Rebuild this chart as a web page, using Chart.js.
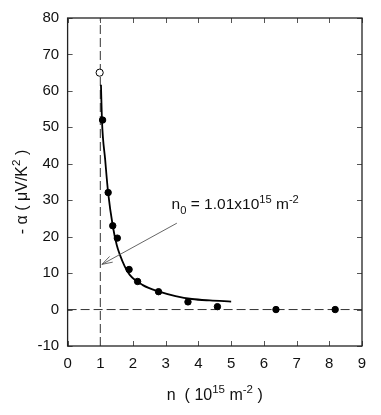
<!DOCTYPE html>
<html>
<head>
<meta charset="utf-8">
<script src="https://cdn.jsdelivr.net/npm/chart.js@4.4.1/dist/chart.umd.min.js"></script>
<style>
  html, body { margin: 0; padding: 0; background: #fff; }
  #wrap { width: 381px; height: 415px; position: relative; }
</style>
</head>
<body>
<div id="wrap"><canvas id="alphaChart"></canvas></div>
<script>
// measured points (filled)
const nMeasured = [1.07, 1.24, 1.38, 1.52, 1.88, 2.14, 2.78, 3.68, 4.58, 6.37, 8.18];
const alphaMeasured = [52, 32.1, 23, 19.6, 11, 7.7, 4.9, 2.1, 0.8, 0, 0];
// open point
const nOpen = [0.98];
const alphaOpen = [65];
// fitted curve
const nFit = [1.02, 1.05, 1.15, 1.24, 1.38, 1.5, 1.6, 1.75, 1.9, 2.3, 2.8, 3.3, 3.8, 4.35, 5.0];
const alphaFit = [61.7, 52, 41, 32, 23, 17.8, 15, 11.8, 9.5, 6.7, 4.9, 3.7, 2.9, 2.5, 2.2];
// n0 marker and zero line
const n0 = 1;
const xTicks = [0, 1, 2, 3, 4, 5, 6, 7, 8, 9];
const yTicks = [-10, 0, 10, 20, 30, 40, 50, 60, 70, 80];

const FONT = '"Liberation Sans", Arial, Helvetica, sans-serif';
const FS = 15;      // tick labels
const TFS = 16;     // axis titles
const NFS = 15.5;   // note

const toXY = (xs, ys) => xs.map((x, i) => ({ x: x, y: ys[i] }));

// draw text with sub/superscripts: parts = [[text, shift]] shift 1 = sup, -1 = sub
function drawRich(ctx, parts, x, y, align, size) {
    const widths = parts.map(([t, s]) => {
        ctx.font = (s ? size * 0.72 : size) + 'px ' + FONT;
        return ctx.measureText(t).width;
    });
    const total = widths.reduce((a, b) => a + b, 0);
    let cx = align === 'center' ? x - total / 2 : x;
    parts.forEach(([t, s], i) => {
        ctx.font = (s ? size * 0.72 : size) + 'px ' + FONT;
        const dy = s === 1 ? -size * 0.42 : (s === -1 ? size * 0.28 : 0);
        ctx.fillText(t, cx, y + dy);
        cx += widths[i];
    });
}

const framePlugin = {
    id: 'frame',
    afterDatasetsDraw(chart) {
        const { ctx, chartArea: a, scales } = chart;
        ctx.save();
        // inward ticks on all four sides
        ctx.strokeStyle = '#555';
        ctx.lineWidth = 1;
        ctx.beginPath();
        xTicks.forEach(v => {
            const px = Math.round(scales.x.getPixelForValue(v)) + 0.5;
            ctx.moveTo(px, a.bottom); ctx.lineTo(px, a.bottom - 5);
            ctx.moveTo(px, a.top); ctx.lineTo(px, a.top + 5);
        });
        yTicks.forEach(v => {
            const py = Math.round(scales.y.getPixelForValue(v)) + 0.5;
            ctx.moveTo(a.left, py); ctx.lineTo(a.left + 5, py);
            ctx.moveTo(a.right, py); ctx.lineTo(a.right - 5, py);
        });
        ctx.stroke();
        ctx.strokeStyle = '#222';
        ctx.lineWidth = 1.3;
        ctx.strokeRect(a.left, a.top, a.right - a.left, a.bottom - a.top);
        ctx.restore();
    },
    afterDraw(chart) {
        const { ctx, scales } = chart;
        const sx = scales.x, sy = scales.y;
        ctx.save();
        ctx.fillStyle = '#111';
        ctx.textBaseline = 'alphabetic';
        ctx.textAlign = 'left';

        // x title
        drawRich(ctx, [['n  ( 10', 0], ['15', 1], [' m', 0], ['-2', 1], [' )', 0]],
            (chart.chartArea.left + chart.chartArea.right) / 2, 400, 'center', TFS);

        // y title
        ctx.save();
        ctx.translate(27, 192);
        ctx.rotate(-Math.PI / 2);
        drawRich(ctx, [['- \u03b1 ( \u03bcV/K', 0], ['2', 1], [' )', 0]], 0, 0, 'center', TFS);
        ctx.restore();

        // annotation text
        drawRich(ctx, [['n', 0], ['0', -1], [' = 1.01x10', 0], ['15', 1], [' m', 0], ['-2', 1]],
            sx.getPixelForValue(3.18), sy.getPixelForValue(27.5), 'left', NFS);

        // arrow
        const x1 = sx.getPixelForValue(3.34), y1 = sy.getPixelForValue(23.7);
        const x2 = sx.getPixelForValue(1.05), y2 = sy.getPixelForValue(12.4);
        const ang = Math.atan2(y2 - y1, x2 - x1);
        ctx.strokeStyle = '#555';
        ctx.lineWidth = 0.9;
        ctx.beginPath();
        ctx.moveTo(x1, y1); ctx.lineTo(x2, y2);
        [0.3, -0.3].forEach(d => {
            ctx.moveTo(x2, y2);
            ctx.lineTo(x2 - 11 * Math.cos(ang + d), y2 - 11 * Math.sin(ang + d));
        });
        ctx.stroke();
        ctx.restore();
    }
};

function createAlphaChart() {
    const ctx = document.getElementById('alphaChart').getContext('2d');
    new Chart(ctx, {
        type: 'scatter',
        data: {
            datasets: [
                {
                    label: 'n0',
                    data: [{ x: n0, y: -10 }, { x: n0, y: 80 }],
                    showLine: true,
                    borderColor: '#333',
                    borderWidth: 1,
                    borderDash: [9, 4],
                    pointRadius: 0,
                    order: 5
                },
                {
                    label: 'zero',
                    data: [{ x: 0, y: 0 }, { x: 9, y: 0 }],
                    showLine: true,
                    borderColor: '#333',
                    borderWidth: 1,
                    borderDash: [9, 4],
                    pointRadius: 0,
                    order: 4
                },
                {
                    label: 'fit',
                    data: toXY(nFit, alphaFit),
                    showLine: true,
                    borderColor: '#000',
                    borderWidth: 1.8,
                    cubicInterpolationMode: 'monotone',
                    pointRadius: 0,
                    order: 3
                },
                {
                    label: 'measured',
                    data: toXY(nMeasured, alphaMeasured),
                    backgroundColor: '#000',
                    borderColor: '#000',
                    pointRadius: 3.2,
                    order: 1
                },
                {
                    label: 'open',
                    data: toXY(nOpen, alphaOpen),
                    backgroundColor: '#fff',
                    borderColor: '#000',
                    borderWidth: 1,
                    pointRadius: 3.6,
                    order: 2
                }
            ]
        },
        options: {
            responsive: true,
            maintainAspectRatio: false,
            animation: false,
            events: [],
            layout: { padding: { top: 18, right: 19, left: 0, bottom: 0 } },
            plugins: { legend: { display: false }, tooltip: { enabled: false } },
            scales: {
                x: {
                    type: 'linear',
                    min: 0, max: 9,
                    afterBuildTicks: s => { s.ticks = xTicks.map(v => ({ value: v })); },
                    afterFit: s => { s.height = 69; },
                    grid: { display: false, drawTicks: false },
                    border: { display: false },
                    ticks: { color: '#111', padding: 9, font: { family: FONT, size: FS } }
                },
                y: {
                    type: 'linear',
                    min: -10, max: 80,
                    afterBuildTicks: s => { s.ticks = yTicks.map(v => ({ value: v })); },
                    afterFit: s => { s.width = 67.6; },
                    grid: { display: false, drawTicks: false },
                    border: { display: false },
                    ticks: { color: '#111', padding: 8.5, font: { family: FONT, size: FS } }
                }
            }
        },
        plugins: [framePlugin]
    });
}

document.addEventListener('DOMContentLoaded', createAlphaChart);
</script>
</body>
</html>
